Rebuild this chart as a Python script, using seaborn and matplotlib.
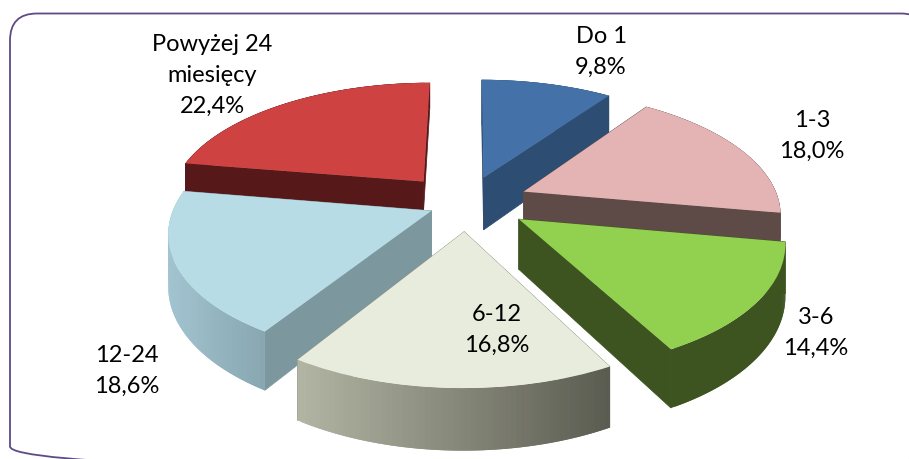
import numpy as np
import matplotlib
matplotlib.use("Agg")
import matplotlib.pyplot as plt
from matplotlib.colors import to_rgb
from matplotlib.patches import FancyBboxPatch
from matplotlib.transforms import Transform
import seaborn as sns

categories = ["Do 1", "1-3", "3-6", "6-12", "12-24", "Powyżej 24\nmiesięcy"]
shares = [9.8, 18.0, 14.4, 16.8, 18.6, 22.4]

top_colors = ["#4472A8", "#E4B4B4", "#92D050", "#E8ECDC", "#B7DCE6", "#CF4242"]
wall_colors = ["#2D4D72", "#5E4A47", "#3D5421", "#8A8C7C", "#7D979E", "#57181A"]
rim_left = ["#2D4D72", "#5E4A47", "#3D5421", "#B2B5A3", "#A2C4D0", "#57181A"]
rim_right = ["#2D4D72", "#5E4A47", "#3D5421", "#5A5B50", "#87A6B0", "#57181A"]
explode = [0.22, 0.23, 0.25, 0.27, 0.176, 0.24]
# small extra shifts of each slice, in pixels
nudge = [(-3, 2), (0, 2), (-4, 1), (-3, -2), (3, 2), (-8, 3)]
depth = [54, 29, 49, 50, 50, 30]
draw_order = [0, 5, 1, 4, 2, 3]
label_pos = [(601, 52), (812, 136), (816, 333), (497, 330), (127, 371), (212, 75)]

CX, CY, AX_X, AX_Y, PERSP = 470, 200, 255, 120, 0.16


def project(gx, gy):
    gx, gy = np.asarray(gx, float), np.asarray(gy, float)
    w = 1 / (1 + PERSP * gy)
    return CX + AX_X * gx * w, CY - AX_Y * gy * w, w


class Tilt(Transform):
    # lays the flat pie on the tilted plane, output is in pixels
    input_dims = output_dims = 2
    has_inverse = False
    is_separable = False

    def transform_non_affine(self, values):
        sx, sy, _ = project(values[:, 0], values[:, 1])
        return np.column_stack([sx, sy])


sns.set_theme(style="white")
plt.rcParams["font.family"] = ["Lato", "DejaVu Sans"]

fig, ax = plt.subplots(figsize=(9.09, 4.59), dpi=100)
fig.subplots_adjust(0, 0, 1, 1)

wedges, _ = ax.pie(shares, explode=explode, startangle=90, counterclock=False,
                   colors=sns.color_palette(top_colors), wedgeprops={"linewidth": 0})
ax.set_aspect("auto")
ax.set_xlim(0, 909)
ax.set_ylim(459, 0)
ax.axis("off")

tilt = Tilt()
for rank, i in enumerate(draw_order):
    wedge = wedges[i]
    ox = wedge.center[0] + nudge[i][0] / AX_X
    oy = wedge.center[1] - nudge[i][1] / AX_Y
    wedge.set_center((ox, oy))
    wedge.set_transform(tilt + ax.transData)
    wedge.set_zorder(3 * rank + 3)
    d = depth[i]

    # the two flat walls
    for angle in (wedge.theta1, wedge.theta2):
        a = np.radians(angle)
        sx, sy, w = project([ox, ox + np.cos(a)], [oy, oy + np.sin(a)])
        ax.fill([sx[0], sx[1], sx[1], sx[0]],
                [sy[0], sy[1], sy[1] + d * w[1], sy[0] + d * w[0]],
                color=wall_colors[i], lw=0.5, zorder=3 * rank + 1)

    # outer rim, cut in thin strips so the colour can run from left to right
    # each strip runs under the next one, that hides the seams
    ang = np.radians(np.linspace(wedge.theta1, wedge.theta2, 60))
    sx, sy, w = project(ox + np.cos(ang), oy + np.sin(ang))
    c0, c1 = np.array(to_rgb(rim_left[i])), np.array(to_rgb(rim_right[i]))
    for k in range(len(ang) - 1):
        n = min(k + 2, len(ang) - 1)
        t = (sx[k] - sx.min()) / max(sx.max() - sx.min(), 1)
        xs = list(sx[k:n + 1]) + list(sx[k:n + 1][::-1])
        ys = list(sy[k:n + 1]) + list((sy[k:n + 1] + d * w[k:n + 1])[::-1])
        ax.fill(xs, ys, color=tuple(c0 + (c1 - c0) * t), lw=0, zorder=3 * rank + 2)

for name, value, (x, y) in zip(categories, shares, label_pos):
    text = name + "\n" + f"{value:.1f}%".replace(".", ",")
    ax.text(x, y, text, ha="center", va="center", fontsize=17, color="#000000",
            linespacing=1.58, zorder=50)

frame = FancyBboxPatch((10, 13.5), 918, 460, boxstyle="round,pad=0,rounding_size=27",
                       fc="none", ec="#5E4B84", lw=1.3, clip_on=True, zorder=60)
ax.add_patch(frame)

fig.savefig("out.png", dpi=100)
